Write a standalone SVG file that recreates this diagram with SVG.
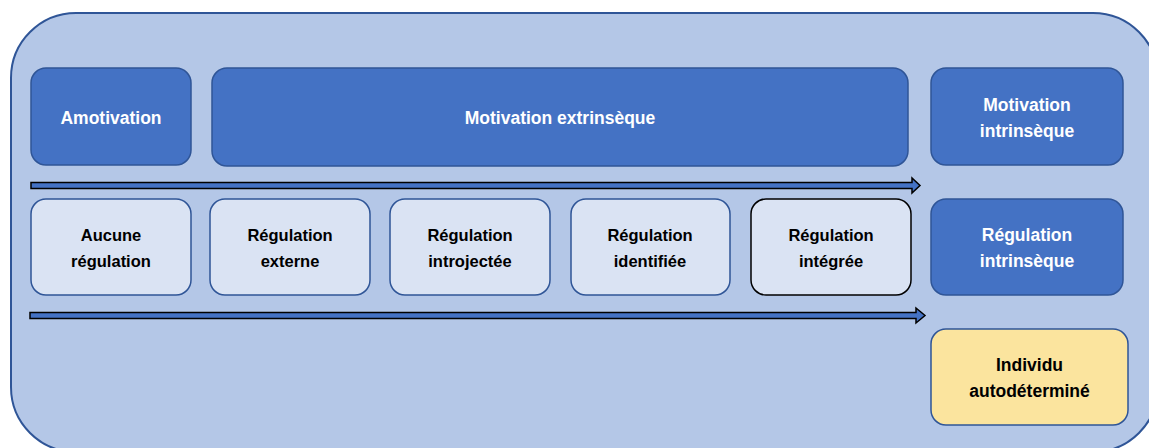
<svg xmlns="http://www.w3.org/2000/svg" width="1149" height="448" viewBox="0 0 1149 448">
<style>
.dark{fill:#4472c4;stroke:#2f5597;stroke-width:1.5}
.light{fill:#dae3f3;stroke:#2f5597;stroke-width:1.5}
.lightb{fill:#dae3f3;stroke:#000;stroke-width:1.5}
.gold{fill:#fbe49e;stroke:#2f5597;stroke-width:1.5}
.arrow{fill:#4472c4;stroke:#000;stroke-width:1.5;stroke-linejoin:miter}
text{font-family:"Liberation Sans",Arial,sans-serif;font-weight:bold;text-anchor:middle}
.w{fill:#fff;font-size:17.5px}
.b{fill:#000;font-size:16.5px}
.bb{fill:#000;font-size:17.5px}
</style>
<rect x="11" y="13" width="1147" height="439" rx="65" ry="65" fill="#b4c7e7" stroke="#2f5597" stroke-width="2"/>
<g id="connectors">
<polygon class="arrow" points="31,182.5 912,182.5 912,178 920,185.5 912,193 912,188.5 31,188.5"/>
<polygon class="arrow" points="30,312.5 916,312.5 916,308 925,315.5 916,323 916,318.5 30,318.5"/>
</g>
<g id="amotivation"><rect class="dark" x="31" y="68" width="160" height="97" rx="15"/><text class="w" x="111" y="124">Amotivation</text></g>
<g id="motivation-extrinseque"><rect class="dark" x="212" y="68" width="696" height="98" rx="15"/><text class="w" x="560" y="124">Motivation extrinsèque</text></g>
<g id="motivation-intrinseque"><rect class="dark" x="931" y="68" width="192" height="97" rx="15"/><text class="w" x="1027" y="110.5">Motivation</text><text class="w" x="1027" y="136.5">intrinsèque</text></g>
<g id="aucune-regulation"><rect class="light" x="31" y="199" width="160" height="96" rx="15"/><text class="b" x="111" y="241">Aucune</text><text class="b" x="111" y="267">régulation</text></g>
<g id="regulation-externe"><rect class="light" x="210" y="199" width="160" height="96" rx="15"/><text class="b" x="290" y="241">Régulation</text><text class="b" x="290" y="267">externe</text></g>
<g id="regulation-introjectee"><rect class="light" x="390" y="199" width="160" height="96" rx="15"/><text class="b" x="470" y="241">Régulation</text><text class="b" x="470" y="267">introjectée</text></g>
<g id="regulation-identifiee"><rect class="light" x="571" y="199" width="159" height="96" rx="15"/><text class="b" x="650" y="241">Régulation</text><text class="b" x="650" y="267">identifiée</text></g>
<g id="regulation-integree"><rect class="lightb" x="751" y="199" width="160" height="96" rx="15"/><text class="b" x="831" y="241">Régulation</text><text class="b" x="831" y="267">intégrée</text></g>
<g id="regulation-intrinseque"><rect class="dark" x="931" y="199" width="192" height="96" rx="15"/><text class="w" x="1027" y="241">Régulation</text><text class="w" x="1027" y="267">intrinsèque</text></g>
<g id="individu-autodetermine"><rect class="gold" x="931" y="329" width="197" height="96" rx="15"/><text class="bb" x="1029.5" y="371">Individu</text><text class="bb" x="1029.5" y="397">autodéterminé</text></g>
</svg>
